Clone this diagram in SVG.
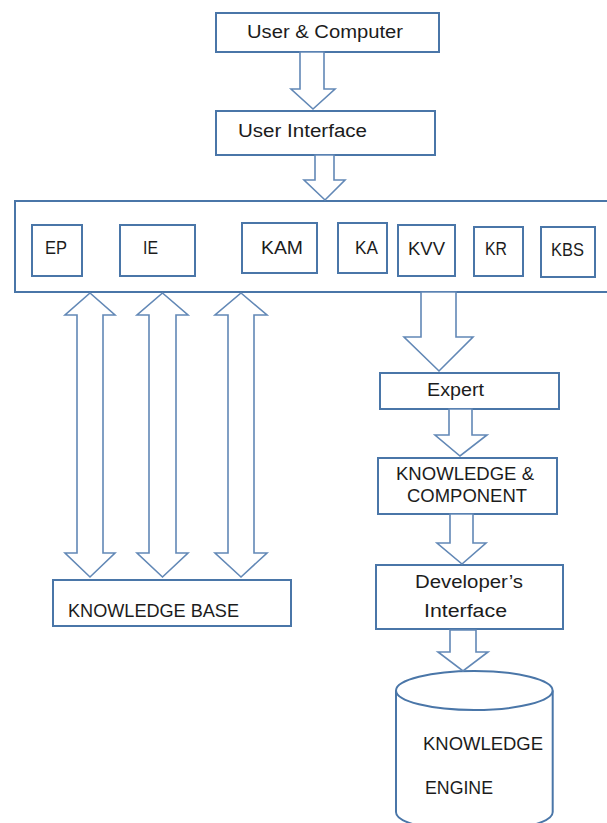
<svg xmlns="http://www.w3.org/2000/svg" width="607" height="823" viewBox="0 0 607 823">
<style>
.box{fill:#ffffff;stroke:#4a76a8;stroke-width:2}
.arr{fill:#ffffff;stroke:#6288b6;stroke-width:1.6;stroke-linejoin:miter}
.t{font-family:"Liberation Sans",Arial,sans-serif;font-size:18px;fill:#1c1c1c}
</style>
<rect width="607" height="823" fill="#ffffff"/>
<g id="user-computer"><rect class="box" x="216" y="13" width="223" height="39"/><text class="t" x="247" y="38" textLength="156" lengthAdjust="spacingAndGlyphs">User &amp; Computer</text></g>
<g id="user-interface"><rect class="box" x="216" y="111" width="219" height="44"/><text class="t" x="238" y="137" textLength="129" lengthAdjust="spacingAndGlyphs">User Interface</text></g>
<g id="modules"><rect class="box" x="15" y="201" width="600" height="91"/></g>
<g id="ep"><rect class="box" x="32" y="225" width="50" height="51"/><text class="t" x="45" y="254" textLength="22" lengthAdjust="spacingAndGlyphs">EP</text></g>
<g id="ie"><rect class="box" x="120" y="225" width="75" height="51"/><text class="t" x="143" y="254" textLength="15" lengthAdjust="spacingAndGlyphs">IE</text></g>
<g id="kam"><rect class="box" x="242" y="223" width="75" height="50"/><text class="t" x="261" y="254" textLength="42" lengthAdjust="spacingAndGlyphs">KAM</text></g>
<g id="ka"><rect class="box" x="338" y="223" width="49" height="50"/><text class="t" x="355" y="254" textLength="23" lengthAdjust="spacingAndGlyphs">KA</text></g>
<g id="kvv"><rect class="box" x="398" y="225" width="57" height="51"/><text class="t" x="408" y="255" textLength="37" lengthAdjust="spacingAndGlyphs">KVV</text></g>
<g id="kr"><rect class="box" x="474" y="227" width="49" height="49"/><text class="t" x="485" y="255" textLength="22" lengthAdjust="spacingAndGlyphs">KR</text></g>
<g id="kbs"><rect class="box" x="541" y="227" width="54" height="50"/><text class="t" x="551" y="256" textLength="33" lengthAdjust="spacingAndGlyphs">KBS</text></g>
<g id="knowledge-base"><rect class="box" x="53" y="580" width="238" height="46"/><text class="t" x="68" y="617" textLength="171" lengthAdjust="spacingAndGlyphs">KNOWLEDGE BASE</text></g>
<g id="expert"><rect class="box" x="380" y="373" width="179" height="36"/><text class="t" x="427" y="396" textLength="57" lengthAdjust="spacingAndGlyphs">Expert</text></g>
<g id="knowledge-component"><rect class="box" x="378" y="458" width="179" height="56"/><text class="t" x="396" y="480" textLength="138" lengthAdjust="spacingAndGlyphs">KNOWLEDGE &amp;</text><text class="t" x="407" y="502" textLength="120" lengthAdjust="spacingAndGlyphs">COMPONENT</text></g>
<g id="developers-interface"><rect class="box" x="376" y="565" width="187" height="64"/><text class="t" x="415" y="588" textLength="108" lengthAdjust="spacingAndGlyphs">Developer’s</text><text class="t" x="424" y="617" textLength="83" lengthAdjust="spacingAndGlyphs">Interface</text></g>
<g id="knowledge-engine"><path class="box" d="M396,690.5 L396,812 A78.3,19.5 0 0 0 552.7,812 L552.7,690.5"/><ellipse class="box" cx="474.3" cy="690.5" rx="78.3" ry="19.5"/><text class="t" x="423" y="750" textLength="120" lengthAdjust="spacingAndGlyphs">KNOWLEDGE</text><text class="t" x="425" y="794" textLength="68" lengthAdjust="spacingAndGlyphs">ENGINE</text></g>
<g id="connectors">
<polygon class="arr" points="300,52 324,52 324,89 335,89 313,109 291,89 300,89"/>
<polygon class="arr" points="315,155 334,155 334,180 345,180 325,200 304,180 315,180"/>
<polygon class="arr" points="421,292 456,292 456,337 473,337 439,371 404,337 421,337"/>
<polygon class="arr" points="449,409 472,409 472,435 487,435 460,456 435,435 449,435"/>
<polygon class="arr" points="450,514 473,514 473,543 486,543 462,564 437,543 450,543"/>
<polygon class="arr" points="450,630 476,630 476,652 488,652 463,671 438,652 450,652"/>
<polygon class="arr" points="90,293 115,315 103,315 103,553 115,553 90,577 65,553 77,553 77,315 65,315"/>
<polygon class="arr" points="162.5,293 188,315 176,315 176,553 188,553 162.5,577 137,553 149,553 149,315 137,315"/>
<polygon class="arr" points="241,293 267,315 254,315 254,553 267,553 241,577 215,553 228,553 228,315 215,315"/>
</g>
</svg>
